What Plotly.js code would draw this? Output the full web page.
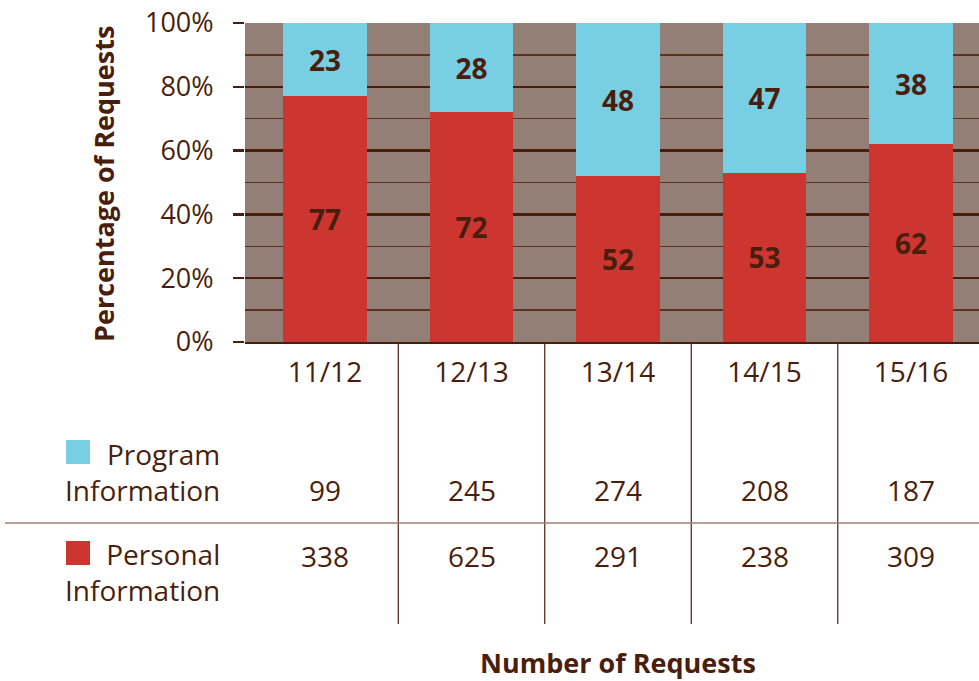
<!DOCTYPE html>
<html>
<head>
<meta charset="utf-8">
<script src="https://cdn.plot.ly/plotly-3.0.1.min.js"></script>
<style>html,body{margin:0;padding:0;background:#fff;}#chart{width:979px;height:681px;}</style>
</head>
<body>
<div id="chart"></div>
<script>
// ---- data ----
const years = ["11/12", "12/13", "13/14", "14/15", "15/16"];
const personalPct = [77, 72, 52, 53, 62];
const programPct = [23, 28, 48, 47, 38];
const programCounts = [99, 245, 274, 208, 187];
const personalCounts = [338, 625, 291, 238, 309];
const yTickVals = [0, 20, 40, 60, 80, 100];
const yTickText = yTickVals.map(v => v + "%");
const seriesNames = ["Personal Information", "Program Information"];

// ---- style ----
const DARK = "#4a1e0c";
const RED = "#cd3630";
const BLUE = "#78cfe4";
const BG = "#947f76";
const FONT = "Open Sans, sans-serif";

const traces = [
  {
    type: "bar", name: seriesNames[0], x: years, y: personalPct,
    marker: {color: RED}, width: 0.573,
    text: personalPct.map(String), textposition: "inside", insidetextanchor: "middle",
    textfont: {family: FONT, size: 28, color: DARK, weight: 700}, textangle: 0
  },
  {
    type: "bar", name: seriesNames[1], x: years, y: programPct,
    marker: {color: BLUE}, width: 0.573,
    text: programPct.map(String), textposition: "inside", insidetextanchor: "middle",
    textfont: {family: FONT, size: 28, color: DARK, weight: 700}, textangle: 0
  }
];

// paper conversions: plot x 245..979, y 342..23
const px2x = p => (p - 245) / 734;
const py2y = p => (342 - p) / 319;

const annotations = [];
// counts table
years.forEach((yr, i) => {
  annotations.push({xref: "x", yref: "paper", x: yr, y: py2y(490), text: String(programCounts[i]),
    showarrow: false, xanchor: "center", yanchor: "middle", font: {family: FONT, size: 28, color: DARK}});
  annotations.push({xref: "x", yref: "paper", x: yr, y: py2y(556), text: String(personalCounts[i]),
    showarrow: false, xanchor: "center", yanchor: "middle", font: {family: FONT, size: 28, color: DARK}});
});
// legend labels
annotations.push({xref: "paper", yref: "paper", x: px2x(222), y: py2y(472), text: "Program<br>Information",
  showarrow: false, xanchor: "right", yanchor: "middle", align: "right", font: {family: FONT, size: 28, color: DARK}});
annotations.push({xref: "paper", yref: "paper", x: px2x(222), y: py2y(572), text: "Personal<br>Information",
  showarrow: false, xanchor: "right", yanchor: "middle", align: "right", font: {family: FONT, size: 28, color: DARK}});
// titles
annotations.push({xref: "paper", yref: "paper", x: px2x(618), y: py2y(662), text: "<b>Number of Requests</b>",
  showarrow: false, xanchor: "center", yanchor: "middle", font: {family: FONT, size: 27, color: DARK}});
annotations.push({xref: "paper", yref: "paper", x: px2x(103), y: py2y(184), text: "<b>Percentage of Requests</b>",
  textangle: -90, showarrow: false, xanchor: "center", yanchor: "middle", font: {family: FONT, size: 27, color: DARK}});

const shapes = [];
// vertical separators below the plot
[0.5, 1.5, 2.5, 3.5].forEach(v => {
  shapes.push({type: "line", xref: "x", yref: "paper", x0: v, x1: v, y0: 0, y1: py2y(624),
    line: {color: DARK, width: 1.2}});
});
// horizontal separator
shapes.push({type: "line", xref: "paper", yref: "paper", x0: px2x(5), x1: 1, y0: py2y(523), y1: py2y(523),
  line: {color: "#9c7f74", width: 1.5}});
// legend squares
shapes.push({type: "rect", xref: "paper", yref: "paper", x0: px2x(66), x1: px2x(90), y0: py2y(440), y1: py2y(464),
  fillcolor: BLUE, line: {width: 0}});
shapes.push({type: "rect", xref: "paper", yref: "paper", x0: px2x(66), x1: px2x(90), y0: py2y(541), y1: py2y(565),
  fillcolor: RED, line: {width: 0}});

const layout = {
  width: 979, height: 681,
  margin: {l: 245, r: 0, t: 23, b: 339, pad: 0},
  paper_bgcolor: "#ffffff", plot_bgcolor: BG,
  barmode: "stack", showlegend: false, hovermode: false,
  font: {family: FONT, color: DARK},
  xaxis: {
    type: "category", range: [-0.546, 4.464], showgrid: false, zeroline: false,
    showline: true, linecolor: DARK, linewidth: 2, ticks: "",
    tickfont: {family: FONT, size: 28, color: DARK}, ticklabelstandoff: 4, fixedrange: true
  },
  yaxis: {
    range: [0, 100], tickmode: "array", tickvals: yTickVals, ticktext: yTickText,
    showgrid: true, gridcolor: DARK, gridwidth: 2.5, zeroline: false,
    ticks: "outside", ticklen: 11, tickwidth: 2.5, tickcolor: DARK,
    minor: {dtick: 10, showgrid: true, gridcolor: "#5b3224", gridwidth: 1.5, ticks: ""},
    tickfont: {family: FONT, size: 27, color: DARK}, ticklabelstandoff: 14, fixedrange: true
  },
  annotations: annotations,
  shapes: shapes
};

Plotly.newPlot("chart", traces, layout, {staticPlot: true, displayModeBar: false});
</script>
</body>
</html>
